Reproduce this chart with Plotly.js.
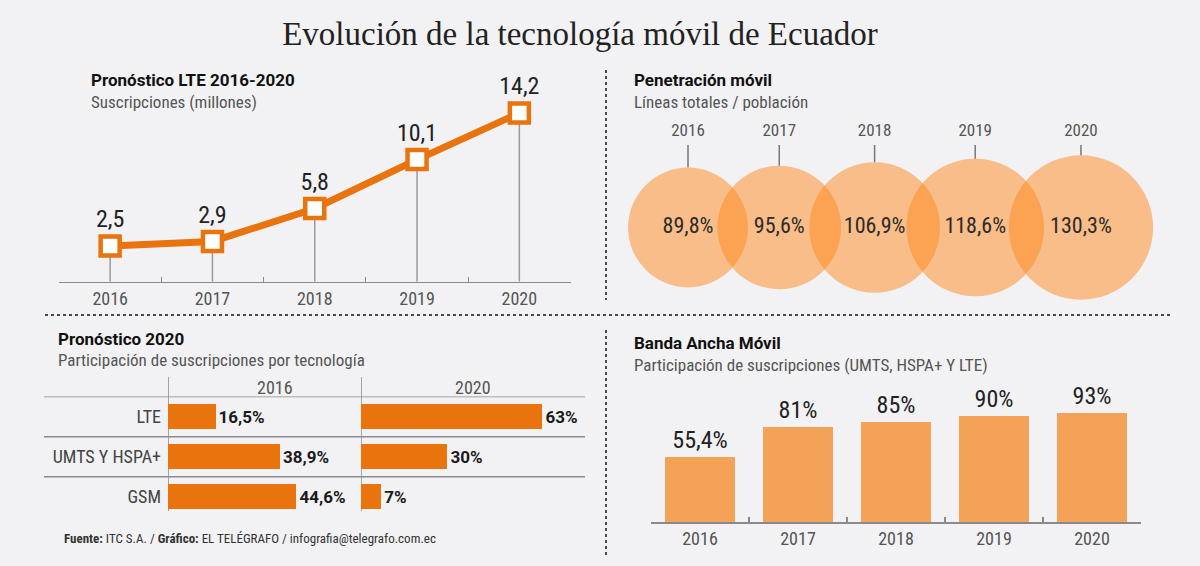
<!DOCTYPE html>
<html>
<head>
<meta charset="utf-8">
<script src="https://cdn.plot.ly/plotly-3.0.1.min.js"></script>
<style>html,body{margin:0;padding:0;background:#f2f2f4;}#chart{width:1200px;height:566px;}</style>
</head>
<body>
<div id="chart"></div>
<script>
// ---------- data ----------
const years = ['2016', '2017', '2018', '2019', '2020'];
const lteSubs = [2.5, 2.9, 5.8, 10.1, 14.2];            // millones
const penetration = [89.8, 95.6, 106.9, 118.6, 130.3];  // %
const techs = ['LTE', 'UMTS Y HSPA+', 'GSM'];
const share2016 = [16.5, 38.9, 44.6];
const share2020 = [63, 30, 7];
const broadband = [55.4, 81, 85, 90, 93];

// ---------- helpers ----------
const W = 1200, H = 566;
const px = x => x / W;            // paper x from pixel
const py = y => 1 - y / H;        // paper y from pixel
const fmt = v => (Number.isInteger(v) ? String(v) : v.toFixed(1)).replace('.', ',');
const SANS = '"Liberation Sans Narrow", "Roboto Condensed", Roboto, sans-serif';
const BOLD = '"Liberation Sans Narrow", Roboto, sans-serif';
const ORANGE = '#e9730c';
const LIGHT_ORANGE = '#f4a257';
const GRAY = '#8a8a8a';

// ---------- panel 1: LTE line ----------
const p1yMin = -0.64;
const dropX = [], dropY = [];
years.forEach((y, i) => { dropX.push(y, y, null); dropY.push(lteSubs[i], p1yMin, null); });

const traces = [];
traces.push({
  x: dropX, y: dropY, xaxis: 'x', yaxis: 'y', mode: 'lines',
  line: {color: '#9a9a9a', width: 1.5}, hoverinfo: 'skip', showlegend: false
});
traces.push({
  x: years, y: lteSubs, xaxis: 'x', yaxis: 'y', mode: 'lines+markers+text',
  line: {color: ORANGE, width: 7},
  marker: {symbol: 'square', size: 19, color: '#ffffff', line: {color: ORANGE, width: 4.5}},
  text: lteSubs.map(fmt), textposition: 'top center',
  textfont: {family: SANS, size: 24, color: '#222'},
  cliponaxis: false, showlegend: false
});

// ---------- panel 2: penetration circles ----------
const k = 6.32;                                  // px radius per sqrt(%)
const radii = penetration.map(v => k * Math.sqrt(v));
const cx = [];
radii.forEach((r, i) => { cx.push(i === 0 ? 688 : cx[i - 1] + 0.75 * (radii[i - 1] + r)); });
const cy = 227.5;
traces.push({
  x: cx, y: cx.map(() => cy), xaxis: 'x5', yaxis: 'y5', mode: 'markers+text',
  marker: {size: radii.map(r => 2 * r), sizemode: 'diameter', color: 'rgba(255,135,30,0.5)', opacity: 1, line: {width: 0}},
  text: penetration.map(v => fmt(v) + '%'), textposition: 'middle center',
  textfont: {family: SANS, size: 22, color: '#2b2b2b'},
  cliponaxis: false, showlegend: false, hoverinfo: 'skip'
});
const stemX = [], stemY = [];
cx.forEach((x, i) => { stemX.push(x, x, null); stemY.push(145, cy - radii[i], null); });
traces.push({
  x: stemX, y: stemY, xaxis: 'x5', yaxis: 'y5', mode: 'lines',
  line: {color: '#777', width: 1.5}, showlegend: false, hoverinfo: 'skip'
});
traces.push({
  x: cx, y: cx.map(() => 132), xaxis: 'x5', yaxis: 'y5', mode: 'text',
  text: years, textfont: {family: SANS, size: 17, color: '#555'},
  cliponaxis: false, showlegend: false, hoverinfo: 'skip'
});

// ---------- panel 3: technology share ----------
const barCommon = {
  type: 'bar', orientation: 'h', marker: {color: ORANGE}, width: 0.62,
  textposition: 'outside', constraintext: 'none', cliponaxis: false,
  textfont: {family: BOLD, size: 17, color: '#1a1a1a', weight: 'bold'},
  showlegend: false, hoverinfo: 'skip'
};
traces.push(Object.assign({}, barCommon, {
  x: share2016, y: techs, xaxis: 'x3', yaxis: 'y3', text: share2016.map(v => '<b>' + fmt(v) + '%</b>')
}));
traces.push(Object.assign({}, barCommon, {
  x: share2020, y: techs, xaxis: 'x4', yaxis: 'y3', text: share2020.map(v => '<b>' + fmt(v) + '%</b>')
}));

// ---------- panel 4: mobile broadband ----------
traces.push({
  type: 'bar', x: years, y: broadband, xaxis: 'x2', yaxis: 'y2',
  marker: {color: LIGHT_ORANGE}, width: 0.72,
  text: broadband.map(v => fmt(v) + '%'), textposition: 'outside', constraintext: 'none',
  textfont: {family: SANS, size: 24, color: '#222'}, cliponaxis: false,
  showlegend: false, hoverinfo: 'skip'
});

// ---------- axes ----------
const catAxis = (d0, d1, anchor) => ({
  domain: [px(d0), px(d1)], type: 'category', categoryarray: years, range: [-0.5, years.length - 0.5],
  tickson: 'boundaries', ticks: 'inside', ticklen: 5, tickwidth: 1.2, tickcolor: GRAY,
  showline: true, linecolor: GRAY, linewidth: 1.5, showgrid: false, zeroline: false,
  tickfont: {family: SANS, size: 18, color: '#555'}, anchor: anchor, fixedrange: true
});
const p1Top = 70, p1Bottom = 281.7, p1Scale = 11.37;
const p4Top = 380, p4Bottom = 522, p4Scale = 1.176;
const hbScale = 2.88;

const layout = {
  width: W, height: H, margin: {l: 0, r: 0, t: 0, b: 0},
  paper_bgcolor: '#f2f2f4', plot_bgcolor: 'rgba(0,0,0,0)',
  font: {family: SANS, color: '#333'},
  title: {text: 'Evolución de la tecnología móvil de Ecuador', x: px(580), xanchor: 'center',
          y: py(33), yanchor: 'middle', yref: 'paper',
          font: {family: '"Liberation Serif", "DejaVu Serif", serif', size: 33, color: '#222'}},
  showlegend: false, bargap: 0,
  xaxis: catAxis(59, 570.5, 'y'),
  yaxis: {domain: [py(p1Bottom), py(p1Top)], range: [p1yMin, p1yMin + (p1Bottom - p1Top) / p1Scale], visible: false, fixedrange: true},
  xaxis2: catAxis(651, 1141, 'y2'),
  yaxis2: {domain: [py(p4Bottom), py(p4Top)], range: [0, (p4Bottom - p4Top) / p4Scale], visible: false, fixedrange: true, anchor: 'x2'},
  xaxis3: {domain: [px(168), px(355)], range: [0, (355 - 168) / hbScale], visible: false, anchor: 'y3', fixedrange: true},
  xaxis4: {domain: [px(361), px(590)], range: [0, (590 - 361) / hbScale], visible: false, anchor: 'y3', fixedrange: true},
  yaxis3: {domain: [py(517), py(396.5)], type: 'category', categoryarray: techs, range: [techs.length - 0.5, -0.5],
           anchor: 'x3', showline: false, showgrid: false, zeroline: false, ticks: '', ticklabelstandoff: 6,
           tickfont: {family: SANS, size: 18, color: '#444'}, fixedrange: true},
  xaxis5: {domain: [px(610), px(1190)], range: [610, 1190], visible: false, anchor: 'y5', fixedrange: true},
  yaxis5: {domain: [py(310), py(110)], range: [310, 110], visible: false, anchor: 'x5', fixedrange: true},
  shapes: [],
  annotations: []
};

// dotted dividers
const dot = {color: '#4a4a4a', width: 2, dash: 'dot'};
layout.shapes.push({type: 'line', xref: 'paper', yref: 'paper', x0: px(606), x1: px(606), y0: py(70), y1: py(300), line: dot});
layout.shapes.push({type: 'line', xref: 'paper', yref: 'paper', x0: px(606), x1: px(606), y0: py(330), y1: py(556), line: dot});
layout.shapes.push({type: 'line', xref: 'paper', yref: 'paper', x0: px(45), x1: px(1170), y0: py(315), y1: py(315), line: dot});

// table rules for panel 3
techs.forEach((t, i) => {
  layout.shapes.push({type: 'line', xref: 'paper', yref: 'y3', x0: px(44), x1: px(585), y0: i - 0.5, y1: i - 0.5,
                      line: {color: GRAY, width: 1.5}, layer: 'below'});
});
['x3', 'x4'].forEach(ax => {
  layout.shapes.push({type: 'line', xref: ax, yref: 'paper', x0: 0, x1: 0, y0: py(377), y1: py(511),
                      line: {color: GRAY, width: 1.5}, layer: 'below'});
});

// texts
const ann = (text, x, y, opts) => Object.assign({
  text: text, xref: 'paper', yref: 'paper', x: px(x), y: py(y), xanchor: 'left', yanchor: 'middle',
  showarrow: false, font: {family: SANS, size: 17, color: '#555'}
}, opts || {});
const titleFont = {family: BOLD, size: 17, color: '#111', weight: 900};
layout.annotations.push(
  ann('<b>Pronóstico LTE 2016-2020</b>', 89, 80, {font: titleFont}),
  ann('Suscripciones (millones)', 89, 102),
  ann('<b>Penetración móvil</b>', 632, 80, {font: titleFont}),
  ann('Líneas totales / población', 632, 102),
  ann('<b>Pronóstico 2020</b>', 56, 339, {font: titleFont}),
  ann('Participación de suscripciones por tecnología', 56, 360),
  ann('<b>Banda Ancha Móvil</b>', 632, 343, {font: titleFont}),
  ann('Participación de suscripciones (UMTS, HSPA+ Y LTE)', 632, 365),
  ann('2016', 275, 387, {xanchor: 'center', font: {family: SANS, size: 18, color: '#555'}}),
  ann('2020', 473, 387, {xanchor: 'center', font: {family: SANS, size: 18, color: '#555'}}),
  ann('<b>Fuente:</b> ITC S.A. / <b>Gráfico:</b> EL TELÉGRAFO / infografia@telegrafo.com.ec', 62, 538,
      {font: {family: SANS, size: 13, color: '#333'}})
);

Plotly.newPlot('chart', traces, layout, {staticPlot: true, displayModeBar: false});
</script>
</body>
</html>
